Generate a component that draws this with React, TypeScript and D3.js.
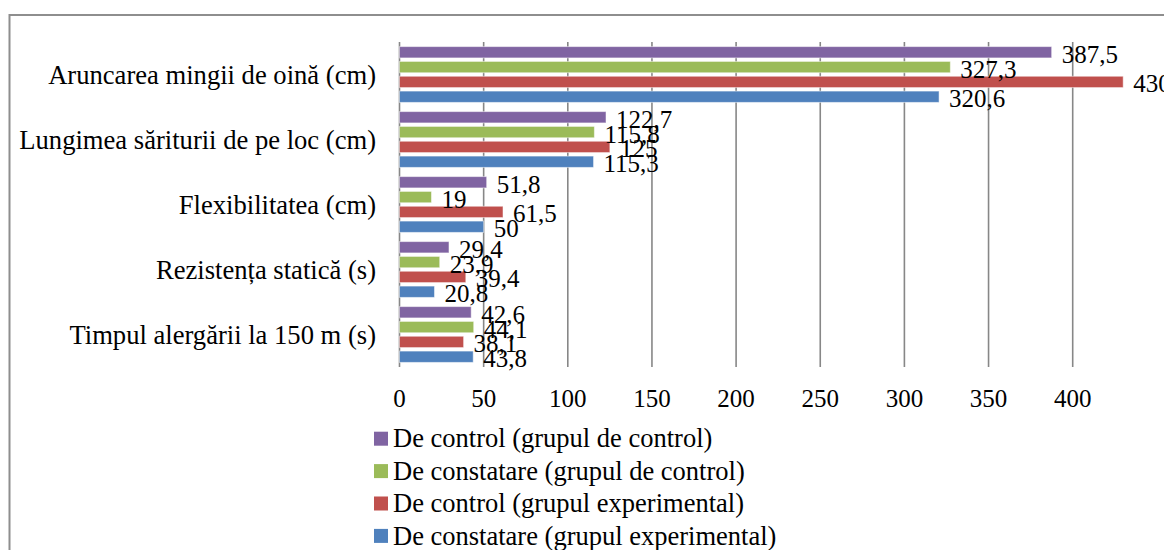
import React from "react";
import * as d3 from "d3";

const categories = [
  "Aruncarea mingii de oină (cm)",
  "Lungimea săriturii de pe loc (cm)",
  "Flexibilitatea (cm)",
  "Rezistența statică (s)",
  "Timpul alergării la 150 m (s)",
];

const seriesNames = [
  "De control (grupul de control)",
  "De constatare (grupul de control)",
  "De control (grupul experimental)",
  "De constatare (grupul experimental)",
];

const controlGC = [387.5, 122.7, 51.8, 29.4, 42.6];
const constatareGC = [327.3, 115.8, 19, 23.9, 44.1];
const controlGE = [430, 125, 61.5, 39.4, 38.1];
const constatareGE = [320.6, 115.3, 50, 20.8, 43.8];

const xTicks = [0, 50, 100, 150, 200, 250, 300, 350, 400];

const colors = ["#8064A2", "#9BBB59", "#C0504D", "#4F81BD"];

const FONT = "Liberation Serif, Times New Roman, serif";

const fmt = (v: number) => String(v).replace(".", ",");

const App = () => {
  const width = 1164;
  const height = 550;
  const series = [controlGC, constatareGC, controlGE, constatareGE];

  const x = d3.scaleLinear().domain([0, 400]).range([399.5, 1072.7]);
  const y0 = d3.scaleBand<string>().domain(categories).range([42, 367]);
  const y1 = d3
    .scaleBand<number>()
    .domain(d3.range(series.length))
    .range([0, y0.bandwidth()])
    .paddingInner(0.236)
    .paddingOuter(0.31);

  const txt = { fontFamily: FONT };

  return (
    <svg
      width={width}
      height={height}
      style={{ position: "absolute", left: 0, top: 0, background: "white", fontFamily: FONT }}
    >
      <rect x={9.5} y={15} width={1300} height={700} fill="white" stroke="#8e8e8e" strokeWidth={2} />

      {/* grid lines */}
      {xTicks.map((t) => (
        <line key={t} x1={x(t)} x2={x(t)} y1={42} y2={367} stroke="#878787" strokeWidth={1.6} />
      ))}

      {/* bars */}
      {categories.map((c, ci) => (
        <g key={c} transform={`translate(0, ${y0(c)})`}>
          {series.map((s, si) => (
            <rect
              key={si}
              x={x(0)}
              y={y1(si)}
              width={x(s[ci]) - x(0)}
              height={y1.bandwidth()}
              fill={colors[si]}
              stroke="#ffffff"
              strokeOpacity={0.5}
              strokeWidth={1}
            />
          ))}
        </g>
      ))}

      {/* value labels */}
      {categories.map((c, ci) =>
        series.map((s, si) => (
          <text
            key={`${ci}-${si}`}
            x={x(s[ci]) + 10}
            y={(y0(c) as number) + (y1(si) as number) + y1.bandwidth() / 2 + 10.5}
            fontSize={25}
            fill="#000"
            style={txt}
          >
            {fmt(s[ci])}
          </text>
        ))
      )}

      {/* category labels */}
      {categories.map((c) => (
        <text
          key={c}
          x={376}
          y={(y0(c) as number) + y0.bandwidth() / 2 + 9}
          textAnchor="end"
          fontSize={26.6}
          fill="#000"
          style={txt}
        >
          {c}
        </text>
      ))}

      {/* x tick labels */}
      {xTicks.map((t) => (
        <text key={t} x={x(t)} y={407} textAnchor="middle" fontSize={25} fill="#000" style={txt}>
          {t}
        </text>
      ))}

      {/* legend */}
      {seriesNames.map((n, i) => {
        const cy = 438.7 + i * 32.4;
        return (
          <g key={n}>
            <rect x={374} y={cy - 7} width={14} height={14} fill={colors[i]} />
            <text x={393} y={cy + 8.6} fontSize={26.5} fill="#000" style={txt}>
              {n}
            </text>
          </g>
        );
      })}
    </svg>
  );
};

export default App;
